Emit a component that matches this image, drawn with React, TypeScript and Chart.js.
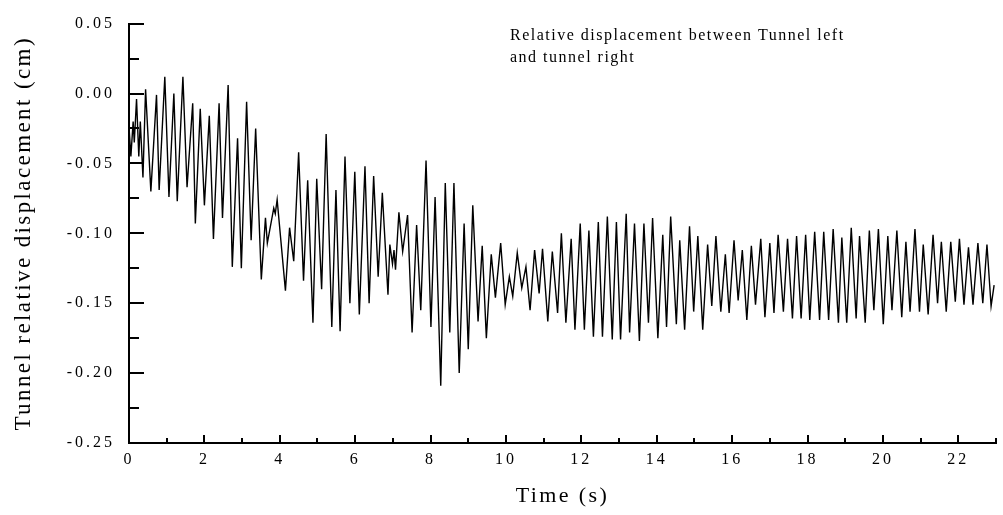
import React, { useEffect, useRef } from "react";
import { Chart, registerables } from "chart.js";

Chart.register(...registerables);

const timeS: number[] = [
  0.00, 0.05, 0.11, 0.14, 0.20, 0.26, 0.30, 0.37, 0.44, 0.58,
  0.73, 0.80, 0.95, 1.06, 1.19, 1.28, 1.43, 1.54, 1.69, 1.76,
  1.89, 2.00, 2.13, 2.24, 2.39, 2.48, 2.63, 2.74, 2.88, 2.98,
  3.12, 3.24, 3.36, 3.51, 3.62, 3.67, 3.84, 3.88, 3.93, 4.15,
  4.26, 4.37, 4.50, 4.63, 4.74, 4.88, 4.98, 5.11, 5.23, 5.38,
  5.49, 5.60, 5.73, 5.86, 5.99, 6.11, 6.26, 6.37, 6.49, 6.61,
  6.72, 6.87, 6.92, 6.99, 7.03, 7.07, 7.16, 7.26, 7.39, 7.51,
  7.63, 7.74, 7.88, 8.01, 8.12, 8.27, 8.39, 8.51, 8.62, 8.76,
  8.89, 9.00, 9.12, 9.26, 9.37, 9.48, 9.61, 9.72, 9.86, 9.98,
  10.09, 10.18, 10.30, 10.42, 10.53, 10.64, 10.76, 10.88, 10.97, 11.11,
  11.23, 11.37, 11.47, 11.59, 11.73, 11.83, 11.97, 12.08, 12.20, 12.32,
  12.45, 12.56, 12.69, 12.82, 12.93, 13.04, 13.19, 13.28, 13.41, 13.54,
  13.66, 13.78, 13.89, 14.03, 14.16, 14.26, 14.37, 14.52, 14.61, 14.74,
  14.87, 14.98, 15.09, 15.22, 15.35, 15.46, 15.57, 15.70, 15.82, 15.92,
  16.05, 16.16, 16.27, 16.39, 16.51, 16.62, 16.76, 16.87, 17.00, 17.11,
  17.22, 17.36, 17.47, 17.60, 17.71, 17.83, 17.95, 18.06, 18.19, 18.32,
  18.43, 18.56, 18.68, 18.82, 18.91, 19.04, 19.16, 19.29, 19.38, 19.53,
  19.64, 19.76, 19.88, 20.01, 20.13, 20.24, 20.37, 20.50, 20.61, 20.72,
  20.85, 20.97, 21.07, 21.20, 21.33, 21.45, 21.55, 21.68, 21.80, 21.92,
  22.03, 22.15, 22.27, 22.39, 22.52, 22.65, 22.76, 22.87, 22.95,
];

// Tunnel relative displacement (cm) at those times
const relDisp: number[] = [
  -0.024, -0.045, -0.020, -0.035, -0.004, -0.045, -0.020, -0.060, 0.003, -0.070,
  -0.001, -0.069, 0.012, -0.074, 0.000, -0.077, 0.012, -0.067, -0.007, -0.093,
  -0.011, -0.080, -0.016, -0.104, -0.007, -0.089, 0.006, -0.124, -0.032, -0.125,
  -0.006, -0.105, -0.025, -0.133, -0.089, -0.107, -0.082, -0.086, -0.076, -0.141,
  -0.096, -0.120, -0.042, -0.134, -0.062, -0.164, -0.061, -0.140, -0.029, -0.167,
  -0.069, -0.170, -0.045, -0.150, -0.056, -0.158, -0.052, -0.150, -0.059, -0.131,
  -0.071, -0.144, -0.108, -0.122, -0.112, -0.126, -0.085, -0.113, -0.087, -0.171,
  -0.094, -0.155, -0.048, -0.167, -0.074, -0.209, -0.064, -0.171, -0.064, -0.200,
  -0.093, -0.183, -0.080, -0.163, -0.109, -0.175, -0.115, -0.146, -0.107, -0.151,
  -0.131, -0.145, -0.114, -0.139, -0.124, -0.155, -0.112, -0.143, -0.111, -0.163,
  -0.113, -0.157, -0.100, -0.164, -0.104, -0.169, -0.093, -0.169, -0.098, -0.174,
  -0.092, -0.174, -0.088, -0.176, -0.092, -0.176, -0.086, -0.171, -0.093, -0.177,
  -0.093, -0.164, -0.089, -0.175, -0.101, -0.167, -0.088, -0.165, -0.105, -0.169,
  -0.095, -0.156, -0.102, -0.169, -0.108, -0.152, -0.102, -0.156, -0.115, -0.157,
  -0.105, -0.148, -0.112, -0.162, -0.109, -0.151, -0.104, -0.160, -0.107, -0.157,
  -0.101, -0.156, -0.104, -0.161, -0.102, -0.161, -0.101, -0.162, -0.099, -0.162,
  -0.099, -0.162, -0.097, -0.164, -0.103, -0.164, -0.096, -0.161, -0.102, -0.164,
  -0.098, -0.155, -0.097, -0.165, -0.102, -0.155, -0.098, -0.160, -0.106, -0.156,
  -0.097, -0.156, -0.108, -0.158, -0.101, -0.150, -0.106, -0.156, -0.106, -0.149,
  -0.104, -0.151, -0.110, -0.151, -0.107, -0.150, -0.108, -0.152, -0.137,
];

const xMin = 0;
const xMax = 23;
const xStep = 1;
const xLabelEvery = 2;
const yMin = -0.25;
const yMax = 0.05;
const yStep = 0.025;
const yLabelEvery = 0.05;

const xTitle = "Time (s)";
const yTitle = "Tunnel relative displacement (cm)";
const noteLines = ["Relative displacement between Tunnel left", "and tunnel right"];

const FONT = "'Liberation Serif', 'Times New Roman', serif";

function isMultiple(v: number, step: number) {
  const k = Math.round(v / step);
  return Math.abs(k * step - v) < 1e-7;
}

export default function App() {
  const ref = useRef<HTMLCanvasElement>(null);

  useEffect(() => {
    const canvas = ref.current;
    if (!canvas) return;

    const styling = {
      id: "styling",
      beforeDraw(chart: any) {
        // axis titles are drawn in the grid layer, before the datasets
        chart.ctx.letterSpacing = "2.4px";
      },
      afterDatasetsDraw(chart: any) {
        // tick labels are drawn after the datasets (ticks.z = 1)
        chart.ctx.letterSpacing = "3px";
      },
      afterDraw(chart: any) {
        const ctx = chart.ctx;
        const xs = chart.scales.x;
        const ys = chart.scales.y;
        const area = chart.chartArea;
        ctx.save();
        ctx.letterSpacing = "0px";
        ctx.strokeStyle = "#000";
        ctx.lineWidth = 2;
        ctx.beginPath();
        xs.ticks.forEach((t: any) => {
          const px = Math.round(xs.getPixelForValue(t.value));
          const len = isMultiple(t.value, xLabelEvery) ? 8 : 5;
          ctx.moveTo(px, area.bottom);
          ctx.lineTo(px, area.bottom - len);
        });
        ys.ticks.forEach((t: any) => {
          const py = Math.round(ys.getPixelForValue(t.value));
          const len = isMultiple(t.value, yLabelEvery) ? 15 : 10;
          ctx.moveTo(area.left, py);
          ctx.lineTo(area.left + len, py);
        });
        ctx.stroke();

        ctx.fillStyle = "#000";
        ctx.font = `16px ${FONT}`;
        ctx.letterSpacing = "1.5px";
        ctx.textAlign = "left";
        ctx.textBaseline = "middle";
        ctx.fillText(noteLines[0], 510, 36);
        ctx.fillText(noteLines[1], 510, 58);
        ctx.restore();
        ctx.letterSpacing = "0px";
      },
    };

    const chart = new Chart(canvas, {
      type: "line",
      data: {
        datasets: [
          {
            data: timeS.map((t, i) => ({ x: t, y: relDisp[i] })),
            borderColor: "#000",
            borderWidth: 1.4,
            pointRadius: 0,
            tension: 0,
            fill: false,
          },
        ],
      },
      options: {
        animation: false,
        responsive: false,
        devicePixelRatio: 1,
        layout: { padding: { top: 19, right: 0, bottom: 0, left: 0 } },
        plugins: {
          legend: { display: false },
          tooltip: { enabled: false },
          title: { display: false },
        },
        scales: {
          x: {
            type: "linear",
            min: xMin,
            max: xMax,
            grid: { display: false, drawTicks: false },
            border: { display: true, color: "#000", width: 2 },
            ticks: {
              z: 1,
              stepSize: xStep,
              autoSkip: false,
              maxRotation: 0,
              padding: 7,
              color: "#000",
              font: { family: FONT, size: 16 },
              callback: (v: any) => (isMultiple(Number(v), xLabelEvery) ? String(Math.round(Number(v))) : ""),
            },
            title: {
              display: true,
              text: xTitle,
              color: "#000",
              font: { family: FONT, size: 22 },
              padding: { top: 0, bottom: 6 },
            },
            afterFit: (s: any) => {
              s.height = 72;
            },
          },
          y: {
            type: "linear",
            min: yMin,
            max: yMax,
            grid: { display: false, drawTicks: false },
            border: { display: true, color: "#000", width: 2 },
            ticks: {
              z: 1,
              stepSize: yStep,
              autoSkip: false,
              padding: 14,
              color: "#000",
              font: { family: FONT, size: 16 },
              callback: (v: any) => {
                const n = Number(v);
                if (!isMultiple(n, yLabelEvery)) return "";
                return Math.abs(n) < 1e-9 ? "0.00" : n.toFixed(2);
              },
            },
            title: {
              display: true,
              text: yTitle,
              color: "#000",
              font: { family: FONT, size: 23 },
              padding: { top: 10, bottom: 0 },
            },
            afterFit: (s: any) => {
              s.width = 129;
            },
          },
        },
      },
      plugins: [styling],
    } as any);

    return () => {
      chart.destroy();
    };
  }, []);

  return (
    <div style={{ position: "fixed", left: 0, top: 0, width: 1003, height: 515, background: "#fff" }}>
      <canvas ref={ref} width={1003} height={515} style={{ display: "block" }} />
    </div>
  );
}
